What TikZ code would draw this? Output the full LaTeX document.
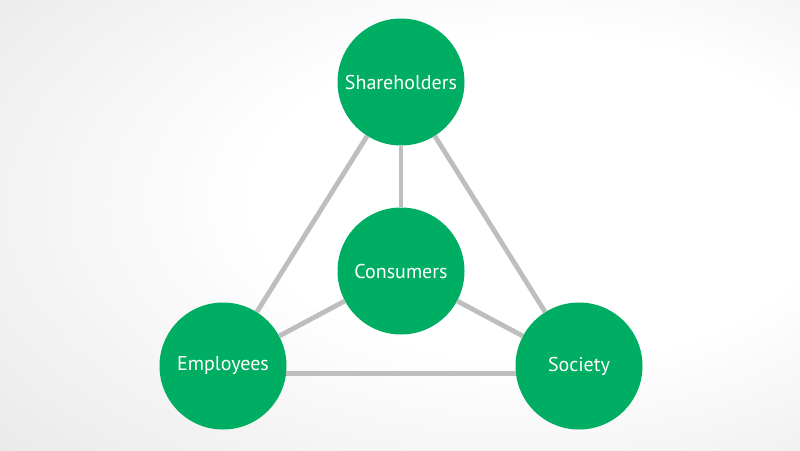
\documentclass[tikz,border=0pt]{standalone}
\usepackage{fontspec}
\setmainfont{PT Sans}
\definecolor{nodegreen}{RGB}{0,174,99}
\definecolor{linegray}{RGB}{190,190,190}
\pgfdeclareradialshading{vignette}{\pgfpoint{12bp}{4bp}}{color(0bp)=(white); color(18bp)=(white); color(45bp)=(black!10); color(70bp)=(black!15)}
\begin{document}
\begin{tikzpicture}[x=1pt,y=-1pt,
  stake/.style={circle, fill=nodegreen, minimum size=127pt, inner sep=0pt, text=white, font=\fontsize{20}{24}\selectfont},
  link/.style={draw=linegray, line width=4.8pt}]
\useasboundingbox (0,0) rectangle (800,450);
\fill[shading=vignette] (0,0) rectangle (800,450);
\node[stake] (sh) at (401,82) {Shareholders};
\node[stake] (co) at (401,271) {Consumers};
\node[stake] (em) at (223,366) {Employees};
\node[stake] (so) at (579,366) {Society};
\draw[link] (sh) -- (em);
\draw[link] (sh) -- (so);
\draw[link] (em.-7) -- (so.-173);
\draw[link] (co) -- (sh);
\draw[link] (co) -- (em);
\draw[link] (co) -- (so);
\end{tikzpicture}
\end{document}
